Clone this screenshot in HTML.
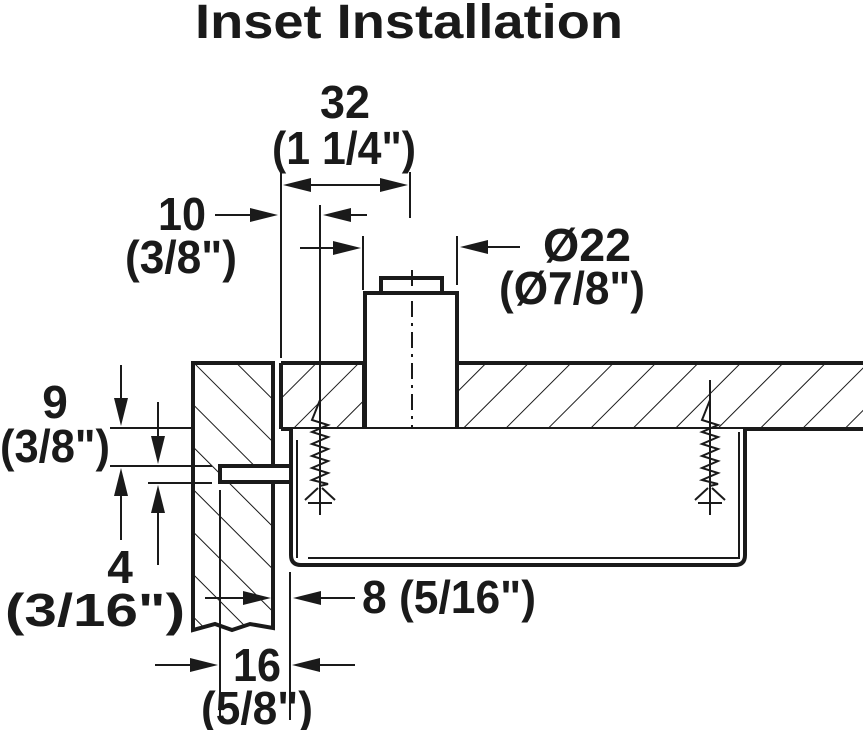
<!DOCTYPE html>
<html><head><meta charset="utf-8"><style>html,body{margin:0;padding:0;background:#fff}svg{display:block}text{font-family:"Liberation Sans",sans-serif;font-weight:bold;fill:#1a1a1a}</style></head>
<body>
<svg width="863" height="730" viewBox="0 0 863 730" xmlns="http://www.w3.org/2000/svg">
<defs>
<pattern id="hd" patternUnits="userSpaceOnUse" width="30" height="30" patternTransform="rotate(-45)"><line x1="0" y1="0" x2="0" y2="30" stroke="#1a1a1a" stroke-width="2"/></pattern>
<pattern id="hs" patternUnits="userSpaceOnUse" width="30" height="30" patternTransform="rotate(45)"><line x1="0" y1="0" x2="0" y2="30" stroke="#1a1a1a" stroke-width="2"/></pattern>
</defs>
<text x="409" y="38" font-size="48" text-anchor="middle" textLength="428" lengthAdjust="spacingAndGlyphs">Inset Installation</text>

<g stroke="#1a1a1a" fill="none">
<path d="M193,363 H273 V628 L250,624 L232,630 L215,624 L193,630 Z" fill="url(#hd)" stroke-width="4"/>
<path d="M281,363 H863 M281,429 H863 M281,363 V429" stroke-width="4"/>
<rect x="281" y="363" width="83" height="66" fill="url(#hs)" stroke="none"/>
<rect x="457" y="363" width="406" height="66" fill="url(#hs)" stroke="none"/>
<path d="M364,363 V429 M457,363 V429" stroke-width="4"/>
<rect x="365" y="293" width="92" height="136" fill="#fff" stroke-width="4"/>
<rect x="381" y="278" width="61" height="15" fill="#fff" stroke-width="4"/>
<line x1="412" y1="270" x2="412" y2="440" stroke-width="2" stroke-dasharray="16,6,3,6"/>
<path d="M291,429 V555 Q291,565 301,565 H735 Q745,565 745,555 V429" fill="#fff" stroke-width="4"/>
<path d="M297,440 V558 M308,558 H739 V432" stroke-width="2"/>
<rect x="220" y="466" width="71" height="16" fill="#fff" stroke-width="4"/>

<g stroke-width="2">
<line x1="320" y1="205" x2="320" y2="515"/>
<path d="M320,400 L312,420 L328,425 L312,432 L328,437 L312,444 L328,449 L312,456 L328,461 L312,468 L328,473 L312,480 L328,484 L320,486 Z" fill="#fff"/>
<path d="M305,500 L318,488 M335,500 L322,488 M308,503 H332"/>
<line x1="710" y1="380" x2="710" y2="515"/>
<path d="M710,400 L702,420 L718,425 L702,432 L718,437 L702,444 L718,449 L702,456 L718,461 L702,468 L718,473 L702,480 L718,484 L710,486 Z" fill="#fff"/>
<path d="M695,500 L708,488 M725,500 L712,488 M698,503 H722"/>
</g>

<g stroke-width="2">
<line x1="281" y1="172" x2="281" y2="358"/>
<line x1="410" y1="172" x2="410" y2="218"/>
<line x1="363" y1="236" x2="363" y2="290"/>
<line x1="457" y1="236" x2="457" y2="285"/>
<line x1="290" y1="185" x2="400" y2="185"/>
<line x1="215" y1="215" x2="260" y2="215"/>
<line x1="367" y1="215" x2="340" y2="215"/>
<line x1="300" y1="248" x2="340" y2="248"/>
<line x1="520" y1="247" x2="480" y2="247"/>
<line x1="110" y1="428" x2="195" y2="428"/>
<line x1="110" y1="466" x2="212" y2="466"/>
<line x1="148" y1="483" x2="212" y2="483"/>
<line x1="121" y1="365" x2="121" y2="405"/>
<line x1="158" y1="402" x2="158" y2="445"/>
<line x1="121" y1="540" x2="121" y2="490"/>
<line x1="158" y1="565" x2="158" y2="505"/>
<line x1="220" y1="490" x2="220" y2="720"/>
<line x1="290" y1="572" x2="290" y2="720"/>
<line x1="205" y1="598" x2="250" y2="598"/>
<line x1="355" y1="598" x2="315" y2="598"/>
<line x1="155" y1="665" x2="200" y2="665"/>
<line x1="355" y1="665" x2="310" y2="665"/>
</g>
</g>
<g fill="#1a1a1a">
<polygon points="283,185 311,178 311,192"/>
<polygon points="408,185 380,178 380,192"/>
<polygon points="278,215 250,208 250,222"/>
<polygon points="323,215 351,208 351,222"/>
<polygon points="361,248 333,241 333,255"/>
<polygon points="460,247 488,240 488,254"/>
<polygon points="121,426 114,398 128,398"/>
<polygon points="158,464 151,436 165,436"/>
<polygon points="121,468 114,496 128,496"/>
<polygon points="158,485 151,513 165,513"/>
<polygon points="271,598 243,591 243,605"/>
<polygon points="293,598 321,591 321,605"/>
<polygon points="218,665 190,658 190,672"/>
<polygon points="292,665 320,658 320,672"/>
</g>

<g font-size="46">
<text x="345" y="118" text-anchor="middle" textLength="50" lengthAdjust="spacingAndGlyphs">32</text>
<text x="344" y="164" text-anchor="middle" textLength="144" lengthAdjust="spacingAndGlyphs">(1 1/4")</text>
<text x="206" y="230" text-anchor="end" textLength="48" lengthAdjust="spacingAndGlyphs">10</text>
<text x="181" y="273" text-anchor="middle" textLength="112" lengthAdjust="spacingAndGlyphs">(3/8")</text>
<text x="587" y="261" text-anchor="middle" textLength="88" lengthAdjust="spacingAndGlyphs">Ø22</text>
<text x="572" y="304" text-anchor="middle" textLength="146" lengthAdjust="spacingAndGlyphs">(Ø7/8")</text>
<text x="55" y="418" text-anchor="middle">9</text>
<text x="55" y="462" text-anchor="middle" textLength="110" lengthAdjust="spacingAndGlyphs">(3/8")</text>
<text x="120" y="583" text-anchor="middle">4</text>
<text x="95" y="626" text-anchor="middle" textLength="180" lengthAdjust="spacingAndGlyphs">(3/16")</text>
<text x="362" y="613" textLength="174" lengthAdjust="spacingAndGlyphs">8 (5/16")</text>
<text x="257" y="681" text-anchor="middle" textLength="48" lengthAdjust="spacingAndGlyphs">16</text>
<text x="257" y="724" text-anchor="middle" textLength="112" lengthAdjust="spacingAndGlyphs">(5/8")</text>
</g>
</svg>
</body></html>
